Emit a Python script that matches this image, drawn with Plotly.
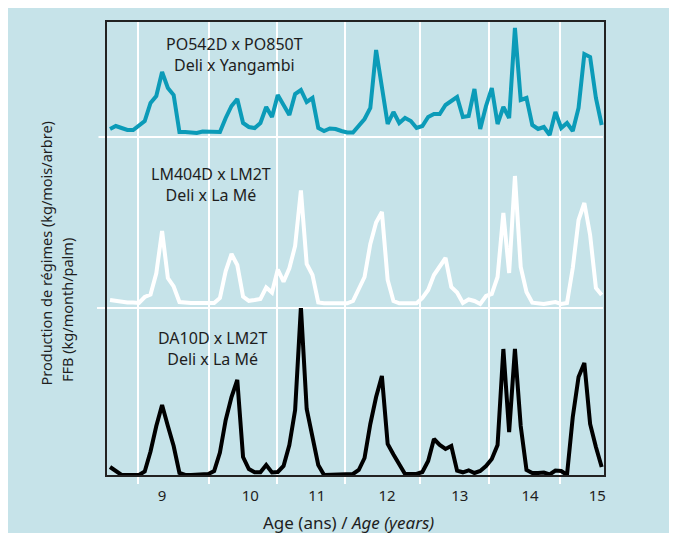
import plotly.graph_objects as go
from plotly.subplots import make_subplots

# ---- data: monthly FFB production (kg/month/palm, arbitrary units)
ages = [8 + m / 12 for m in range(86)]  # monthly sampling from age 8

po542d_po850t = [8, 11, 9, 7, 7, 12, 16, 34, 41, 65, 49, 42, 5, 5, 5, 4, 5.5, 5, 5, 5,
                 19, 31, 38, 14, 10, 9, 14, 30, 20, 42, 32, 22, 43, 47, 35, 39, 9, 6, 8.5, 8,
                 6, 4.5, 4.5, 12, 18, 29, 87, 50, 13, 25, 14, 19, 16, 9, 11, 20, 23, 23, 32, 36,
                 40, 20, 21, 48, 8, 31, 49, 13, 30, 19, 109, 37, 39, 12, 8, 10, 2, 25, 9, 14,
                 6, 29, 83, 80, 39, 12]

lm404d_lm2t = [8, 7, 5.5, 5.5, 5.5, 5, 11, 13.5, 34.7, 77, 30, 21.5, 6, 5, 5, 5, 5, 5, 5, 10,
               37, 54, 43, 11.5, 7.2, 8, 9, 20.5, 15.5, 38.5, 26.3, 39.7, 62, 117.5, 44, 33, 5.5, 4.7, 4.7, 4.7,
               4.7, 4.7, 7, 20, 31, 64, 85.5, 96, 28, 7, 4.7, 4.7, 4.7, 4.7, 10, 18, 33, 42, 50, 21,
               15.5, 5, 8.5, 7, 4, 12, 14, 31, 95, 35, 132, 41, 16, 5.3, 5, 4, 5, 6, 4, 5,
               40, 88, 105, 73, 20, 13]

da10d_lm2t = [8, 3.5, 0, 0, 0, 0, 3.5, 23.5, 49, 70, 49, 29, 2, 0, 0, 0, 0, 1, 4, 22.5,
              55, 78, 95, 18, 6, 2.7, 2.7, 10, 2.5, 3, 9, 30, 65, 168, 66, 39, 10, 0, 0, 0,
              0, 0, 1, 5, 17, 51, 78, 99, 31, 20.5, 10, 1, 1, 1, 3, 14, 36, 30, 26, 29,
              4.3, 2.7, 4.7, 2, 4, 9, 16, 30, 126, 43, 126, 49, 5, 2, 2, 2.5, 0.5, 4.5, 4, 0,
              58, 98, 112, 51, 28, 8]

series_names = ["PO542D x PO850T<br>Deli x Yangambi",
                "LM404D x LM2T<br>Deli x La Mé",
                "DA10D x LM2T<br>Deli x La Mé"]

grid_ages = [8.40, 9.43, 10.41, 11.39, 12.47, 13.46, 14.48]
tick_ages = [8.75, 10.02, 10.98, 11.99, 13.04, 14.05, 15.02]
tick_labels = ["9", "10", "11", "12", "13", "14", "15"]

x_range = [7.942, 15.131]
panel_max = [116, 171, 167]

BG = "#c6e3e9"
TEAL = "#0b9bb8"
TEXT = "#1e1e1e"
FONT = "Noto Sans"

fig = make_subplots(rows=3, cols=1, shared_xaxes=True, vertical_spacing=0,
                    row_heights=[116, 171, 168])

for row, (vals, col) in enumerate([(po542d_po850t, TEAL), (lm404d_lm2t, "white"),
                                   (da10d_lm2t, "black")], start=1):
    fig.add_trace(go.Scatter(x=ages, y=vals, mode="lines",
                             line=dict(color=col, width=4),
                             showlegend=False, hoverinfo="skip"), row=row, col=1)

for row in (1, 2, 3):
    fig.update_xaxes(range=x_range, tickvals=grid_ages, showgrid=True,
                     gridcolor="white", gridwidth=1.5, showticklabels=False,
                     zeroline=False, showline=False, row=row, col=1)
    lo = -1 if row == 3 else 0
    fig.update_yaxes(range=[lo, panel_max[row - 1]], showgrid=False, zeroline=False,
                     showticklabels=False, ticks="", showline=False, row=row, col=1)

fig.update_xaxes(ticks="outside", ticklen=7, tickwidth=1.5, tickcolor="white", row=3, col=1)

# overlay axis carrying the year labels
fig.update_layout(xaxis4=dict(overlaying="x3", anchor="y3", side="bottom", range=x_range,
                              tickvals=tick_ages, ticktext=tick_labels, showgrid=False,
                              zeroline=False, ticks="", showline=False,
                              ticklabelstandoff=9,
                              tickfont=dict(family=FONT, size=15, color=TEXT)))
fig.add_trace(go.Scatter(x=[], y=[], xaxis="x4", yaxis="y3", showlegend=False,
                         hoverinfo="skip"))

shapes = [
    dict(type="line", xref="paper", yref="paper", x0=-0.015, x1=0.996,
         y0=339 / 455, y1=339 / 455, line=dict(color="white", width=2), layer="below"),
    dict(type="line", xref="paper", yref="paper", x0=-0.018, x1=0.996,
         y0=168 / 455, y1=168 / 455, line=dict(color="white", width=2), layer="below"),
    dict(type="rect", xref="paper", yref="paper", x0=0, x1=1, y0=0, y1=1,
         line=dict(color="#222222", width=2), layer="above"),
]

annotations = [
    dict(text=series_names[0], x=0.2585, y=0.9253),
    dict(text=series_names[1], x=0.2104, y=0.6407),
    dict(text=series_names[2], x=0.2134, y=0.2802),
]
annotations = [dict(a, xref="paper", yref="paper", showarrow=False, xanchor="center",
                    yanchor="middle", font=dict(family=FONT, size=16, color=TEXT))
               for a in annotations]
annotations.append(dict(text="Production de régimes (kg/mois/arbre)",
                        xref="paper", yref="paper", x=-0.1222, y=0.1934, textangle=-90,
                        showarrow=False, xanchor="center", yanchor="bottom",
                        font=dict(family=FONT, size=14.5, color=TEXT)))
annotations.append(dict(text="FFB (kg/month/palm)",
                        xref="paper", yref="paper", x=-0.0782, y=0.2022, textangle=-90,
                        showarrow=False, xanchor="center", yanchor="bottom",
                        font=dict(family=FONT, size=14.5, color=TEXT)))
annotations.append(dict(text="Age (ans) / <i>Age (years)</i>", xref="paper", yref="paper",
                        x=0.485, y=-0.1011, showarrow=False, xanchor="center",
                        yanchor="middle", font=dict(family=FONT, size=17, color=TEXT)))

fig.update_layout(width=677, height=533, margin=dict(l=98, r=80, t=13, b=65),
                  paper_bgcolor=BG, plot_bgcolor=BG,
                  shapes=shapes, annotations=annotations)

fig.write_html("out.html")
